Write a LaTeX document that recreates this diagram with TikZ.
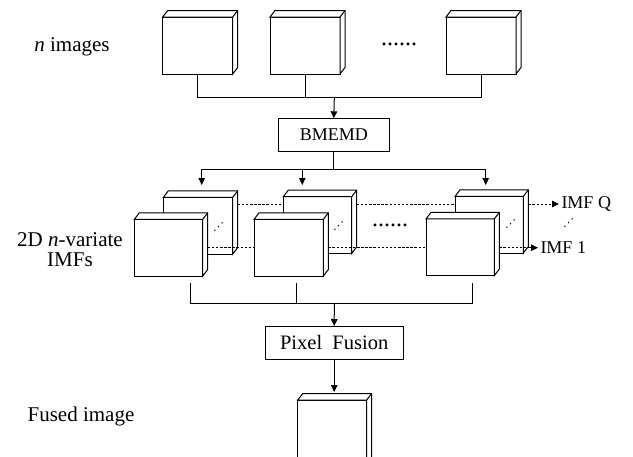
\documentclass[tikz,border=0pt]{standalone}
\usepackage{fontspec}
\setmainfont{Liberation Serif}
\newfontfamily\symfont{DejaVu Sans}
\usetikzlibrary{arrows.meta,calc}

% a slab: front face as a named node, with top and right faces drawn behind it
\newcommand\slab[4]{% name, centre, width, height
  \node[slabface,minimum width=#3pt,minimum height=#4pt] (#1) at (#2) {};
  \filldraw[slabedge] (#1.north west) -- ++(5,-6.5)
    -- ([shift={(5pt,6.5pt)}]#1.north east)
    -- ([shift={(5pt,6.5pt)}]#1.south east)
    -- (#1.south east) -- (#1.north east) -- cycle;
  \draw[slabedge] (#1.north east) -- ++(5,-6.5);
}

\tikzset{
  slabface/.style={draw, fill=white, rectangle, inner sep=0pt, outer sep=0pt},
  slabedge/.style={draw, fill=white, line join=miter},
  procbox/.style={draw, fill=white, rectangle, inner sep=0pt, outer sep=0pt},
  arr/.style={-{Triangle[length=7pt,width=6.5pt]}},
  dashline/.style={dash pattern=on 2.5pt off 1.6pt, line width=0.9pt},
  lbl/.style={font=\fontsize{21}{25}\selectfont, inner sep=0pt},
  imflbl/.style={font=\fontsize{18}{21}\selectfont, inner sep=2pt, anchor=west},
  ell/.style={font=\fontsize{24}{28}\selectfont, inner sep=0pt, anchor=base},
  diagdots/.style={font=\symfont\fontsize{11}{13}\selectfont, inner sep=0pt},
}

\begin{document}
\begin{tikzpicture}[x=1pt, y=-1pt, line width=1pt]
\useasboundingbox (0,0) rectangle (633,456);
\clip (0,0) rectangle (633,456);

% input images
\slab{img1}{197.7,45.5}{70}{57}
\slab{img2}{305,45.5}{70}{57}
\slab{img3}{481,45.5}{70}{57}
\node[ell] (dtop) at (399,45.5) {......};
\node[lbl, anchor=base] (lin) at (72,51.7) {\textit{n} images};

% gather into BMEMD
\node[procbox, minimum width=111pt, minimum height=33.4pt,
      font=\fontsize{18}{21}\selectfont] (bmemd) at (333.8,135) {BMEMD};
\coordinate (jtop) at (334.3,97.7);
\draw (img1.south) |- (img3.south |- jtop) -- (img3.south);
\draw (img2.south) -- (img2.south |- jtop);
\draw[arr] (jtop) -- (bmemd.north);

% split to the IMF stacks
\coordinate (jsplit) at (333.8,169.3);
\coordinate (in1) at (201.7,185);
\coordinate (in2) at (302.3,185);
\coordinate (in3) at (485.7,185);
\draw (bmemd.south) -- (jsplit);
\draw (in1 |- jsplit) -- (in3 |- jsplit);
\draw[arr] (in1 |- jsplit) -- (in1);
\draw[arr] (in2 |- jsplit) -- (in2);
\draw[arr] (in3 |- jsplit) -- (in3);

% IMF stacks: back slab (IMF Q), front slab (IMF 1)
\slab{bk1}{198,225.7}{69.4}{56.7}
\slab{bk2}{317.5,225}{68.4}{56.7}
\slab{bk3}{489.2,224.7}{68.3}{56.7}
\slab{fr1}{168.5,247.7}{68.4}{56.7}
\slab{fr2}{288.7,247.7}{69.3}{56.7}
\slab{fr3}{460.2,247.2}{68.3}{56.7}

\node[ell] (dmid) at (390,226.5) {......};
\node[diagdots] (dg1) at (218.5,227) {⋰};
\node[diagdots] (dg2) at (338.5,226) {⋰};
\node[diagdots] (dg3) at (510.5,224) {⋰};
\node[diagdots] (dg4) at (568.5,223.5) {⋰};

\node[lbl, anchor=base] (limf1) at (70,246.7) {2D \textit{n}-variate};
\node[lbl, anchor=base] (limf2) at (70,266) {IMFs};

\node[imflbl] (imfq) at (559,204) {IMF Q};
\node[imflbl] (imf1) at (538,247.7) {IMF 1};

% component rows
\coordinate (rowq) at (0,204);
\coordinate (row1) at (0,247.7);
\draw[dashline] ($(bk1.east |- rowq)+(5,0)$) -- (bk2.west |- rowq);
\draw[dashline] ($(bk2.east |- rowq)+(5,0)$) -- (bk3.west |- rowq);
\draw[dashline, arr] ($(bk3.east |- rowq)+(5,0)$) -- (imfq.west);
\draw[dashline] ($(fr1.east |- row1)+(5,0)$) -- (fr2.west |- row1);
\draw[dashline] ($(fr2.east |- row1)+(5,0)$) -- (fr3.west |- row1);
\draw[dashline, arr] ($(fr3.east |- row1)+(5,0)$) -- (imf1.west);

% merge into pixel fusion
\coordinate (out1) at (190,282.7);
\coordinate (out2) at (296,282.7);
\coordinate (out3) at (472.7,282.7);
\coordinate (jmerge) at (334.3,303.3);
\node[procbox, minimum width=138.3pt, minimum height=33pt,
      font=\fontsize{20.5}{24}\selectfont] (fusion) at (334.2,342.5) {Pixel\ \ Fusion};
\draw (out1) |- (out3 |- jmerge) -- (out3);
\draw (out2) -- (out2 |- jmerge);
\draw[arr] (jmerge) -- (fusion.north);

% fused result
\slab{fused}{332.2,440}{69}{80}
\coordinate (fusedin) at (334.3,392);
\draw[arr] (fusion.south) -- (fusion.south |- fusedin);
\node[lbl, anchor=base] (lfused) at (81,421.7) {Fused image};
\end{tikzpicture}
\end{document}
